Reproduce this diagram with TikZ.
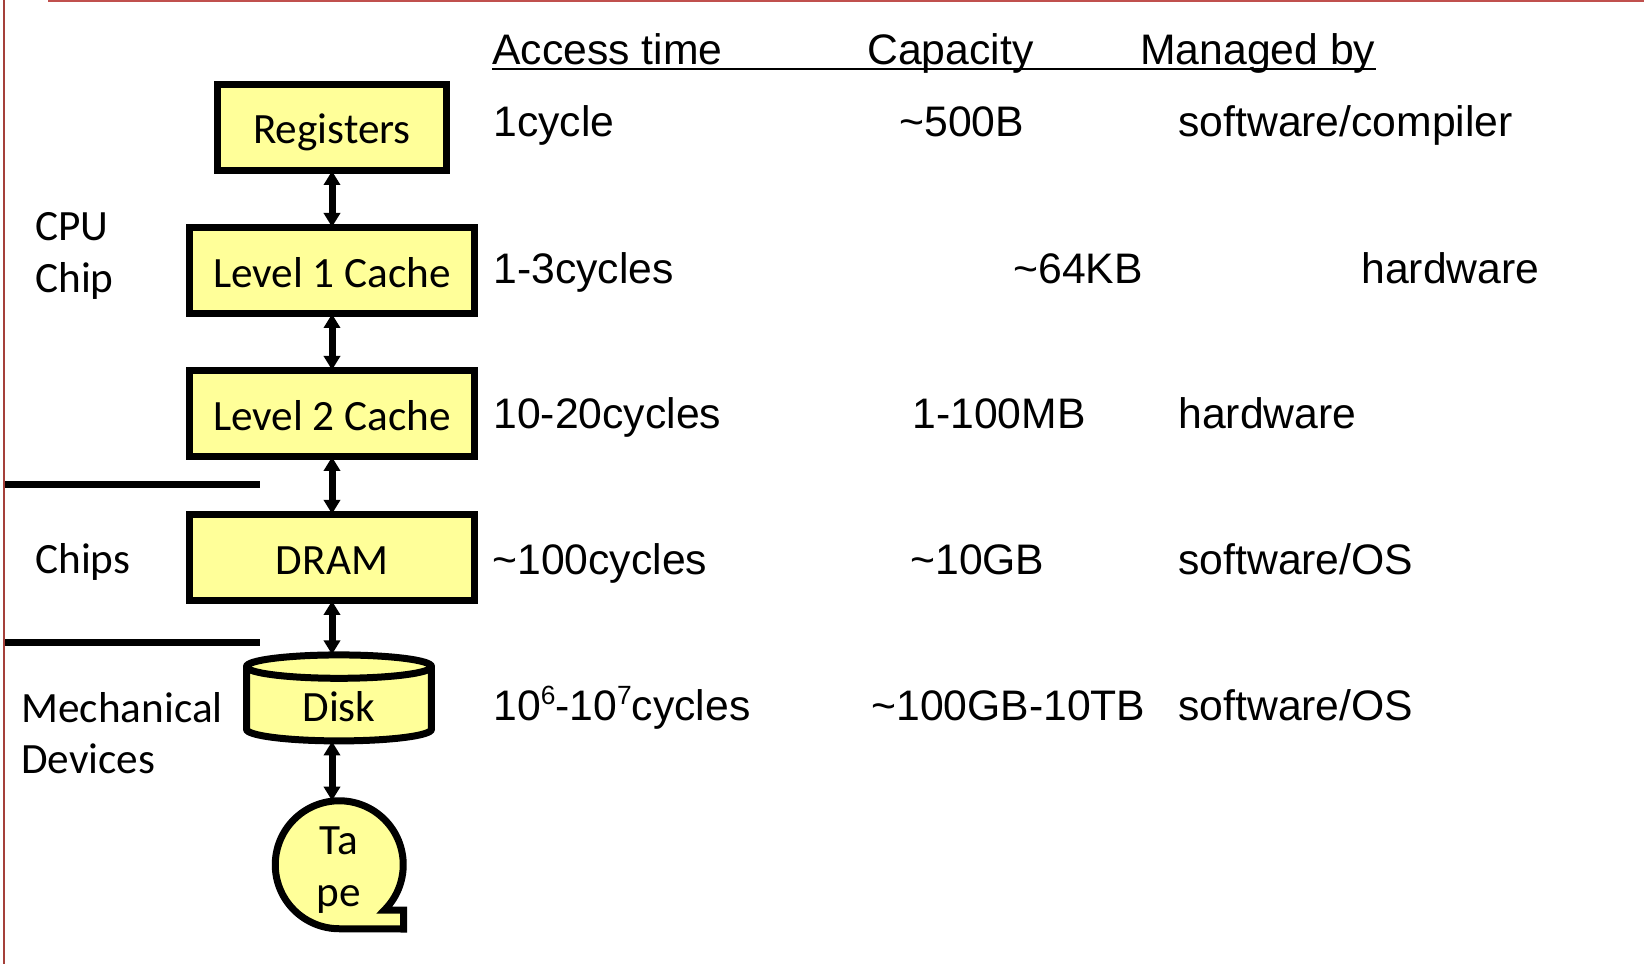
\documentclass[tikz,border=0pt]{standalone}
\usepackage{fontspec}
\setmainfont{Carlito}
\newfontfamily\arialfont{Liberation Sans}
\usetikzlibrary{arrows.meta}
\usetikzlibrary{positioning}
\usetikzlibrary{shapes.geometric}
\definecolor{boxfill}{HTML}{FFFF99}
\definecolor{disktop}{HTML}{FFFFCC}
\definecolor{framered}{HTML}{A5403A}
\definecolor{topred}{HTML}{C0504D}
\newcommand{\raisednum}[1]{\raisebox{0.36em}{\fontsize{15}{15}\selectfont #1}}

\begin{document}
\begin{tikzpicture}[x=0.02cm,y=-0.02cm,node distance=1cm,
                    level text/.style={font=\fontsize{24.6}{28}\selectfont,text height=0.72cm,text depth=0.1cm},
                    level box/.style={rectangle,draw,fill=boxfill,line width=0.14cm,inner sep=0pt,minimum height=1.72cm,level text,text height=0.78cm},
                    link/.style={line width=0.14cm,shorten <=-0.06cm,shorten >=-0.06cm,{Triangle[length=0.28cm,width=0.32cm]}-{Triangle[length=0.28cm,width=0.32cm]}},
                    bar/.style={line width=0.14cm},
                    side text/.style={anchor=base west,inner sep=0pt,font=\fontsize{24.6}{28}\selectfont},
                    row text/.style={anchor=base west,inner sep=0pt,font=\arialfont\fontsize{24.3}{28}\selectfont}]

  \useasboundingbox (0,0) rectangle (1644,964);

  % slide frame
  \draw[framered,line width=0.05cm] (4,0) -- (4,964);
  \draw[topred,line width=0.04cm] (48,1) -- (1644,1);

  % memory levels
  \node[level box,minimum width=4.58cm,text height=0.72cm] (reg) at (332,127.5) {Registers};
  \node[level box,minimum width=5.72cm] (l1) [below=of reg] {Level 1 Cache};
  \node[level box,minimum width=5.72cm] (l2) [below=of l1] {Level 2 Cache};
  \node[level box,minimum width=5.72cm] (dram) [below=1.02cm of l2] {DRAM};

  \node[cylinder,shape border rotate=90,aspect=0.32,draw,fill=boxfill,cylinder uses custom fill,
        cylinder body fill=boxfill,cylinder end fill=disktop,line width=0.14cm,inner sep=0pt,
        minimum width=3.7cm,minimum height=1.72cm,level text] (disk) at (339,705.5) {Disk};

  \draw[fill=boxfill,line width=0.14cm] (384.5,910) arc[start angle=-45,end angle=270,radius=1.28cm]
  	-- (403.5,929) -- (403.5,910) -- cycle;
  \node[circle,inner sep=0pt,minimum size=2.9cm,align=center,font=\fontsize{24.6}{29.5}\selectfont] (tape) at (339,870.5) {Ta\\pe};

  % links
  \draw[link] (reg) -- (l1);
  \draw[link] (l1) -- (l2);
  \draw[link] (l2) -- (dram);
  \draw[link] (dram.south) -- (dram.south |- disk.north);
  \draw[link] (dram.south |- disk.south) -- (dram.south |- tape.north);

  % separators
  \coordinate (sep1a) at (5,484);
  \coordinate (sep1b) at (260,484);
  \coordinate (sep2a) at (5,642);
  \coordinate (sep2b) at (260,642);
  \draw[bar] (sep1a) -- (sep1b);
  \draw[bar] (sep2a) -- (sep2b);

  % left labels
  \node[side text] (cpu) at (35,240) {CPU};
  \node[side text] (chip) at (35,292) {Chip};
  \node[side text] (chips) at (35,573) {Chips};
  \node[side text] (mech) at (21,722) {Mechanical};
  \node[side text] (dev) at (21,773) {Devices};

  % table
  \node[row text] (h1) at (492,64) {Access time};
  \node[row text] (h2) at (867,64) {Capacity};
  \node[row text] (h3) at (1140,64) {Managed by};
  \coordinate (ruleL) at (492,69);
  \coordinate (ruleR) at (1376,69);
  \draw[line width=0.04cm] (ruleL) -- (ruleR);

  \node[row text] (t1) at (493,136) {1cycle};
  \node[row text] (c1) at (899,136) {\textasciitilde500B};
  \node[row text] (m1) at (1178,136) {software/compiler};

  \node[row text] (t2) at (493,283) {1-3cycles};
  \node[row text] (c2) at (1013,283) {\textasciitilde64KB};
  \node[row text] (m2) at (1361,283) {hardware};

  \node[row text] (t3) at (493,428) {10-20cycles};
  \node[row text] (c3) at (912,428) {1-100MB};
  \node[row text] (m3) at (1178,428) {hardware};

  \node[row text] (t4) at (492,574) {\textasciitilde100cycles};
  \node[row text] (c4) at (910,574) {\textasciitilde10GB};
  \node[row text] (m4) at (1178,574) {software/OS};

  \node[row text] (t5) at (493,720) {10\raisednum{6}-10\raisednum{7}cycles};
  \node[row text] (c5) at (871,720) {\textasciitilde100GB-10TB};
  \node[row text] (m5) at (1178,720) {software/OS};
\end{tikzpicture}
\end{document}
